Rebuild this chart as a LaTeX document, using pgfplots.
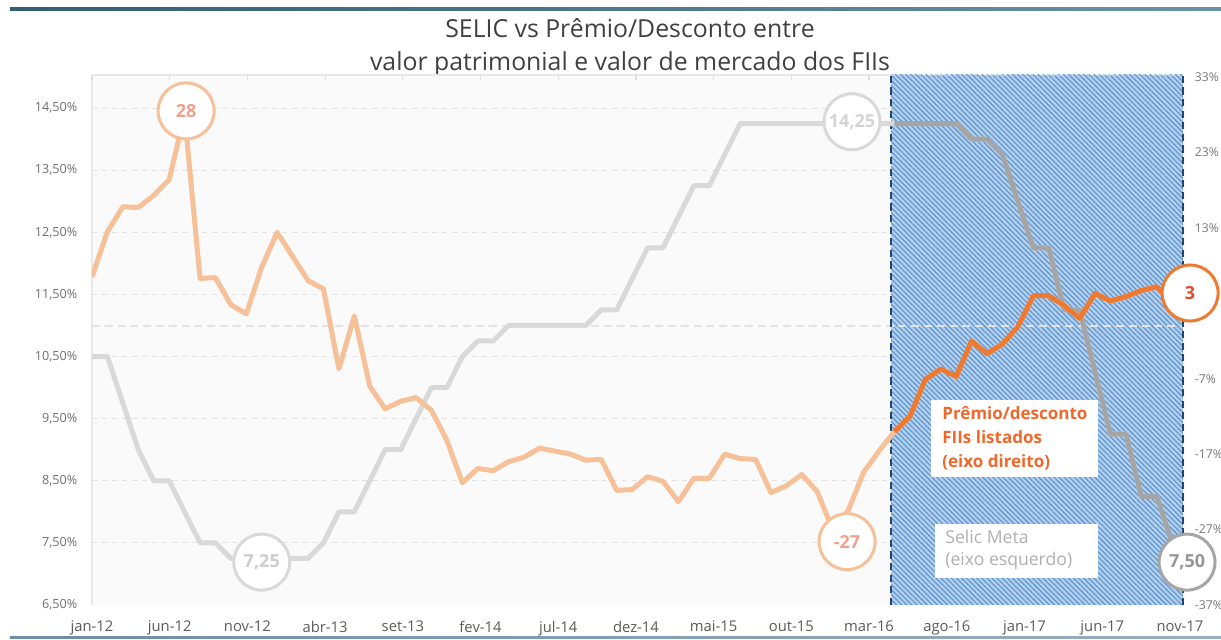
\documentclass[border=0pt]{standalone}
\usepackage{fontspec}
\setmainfont{Open Sans}
\usepackage{pgfplots}
\usepackage{pgfplotstable}
\pgfplotsset{compat=1.18}
\usetikzlibrary{patterns.meta}

\definecolor{fadeor}{RGB}{246,192,152}
\definecolor{satur}{RGB}{238,122,50}
\definecolor{fadegr}{RGB}{217,217,217}
\definecolor{satgr}{RGB}{165,165,165}
\definecolor{navy}{RGB}{35,70,110}
\definecolor{hatchbg}{RGB}{178,208,238}
\definecolor{hatchfg}{RGB}{92,146,204}
\definecolor{ticktxt}{RGB}{110,110,110}
\definecolor{titletxt}{RGB}{64,64,64}
\definecolor{bgl}{RGB}{250,250,250}
\definecolor{gridc}{RGB}{226,226,226}

% i = months since jan-12; selic = left axis (%), premio = right axis (%)
\pgfplotstableread{
i selic premio
0 10.50 6.5
1 10.50 12.5
2 9.75 15.8
3 9.00 15.7
4 8.50 17.3
5 8.50 19.4
6 8.00 28.0
7 7.50 6.3
8 7.50 6.4
9 7.25 2.8
10 7.25 1.6
11 7.25 7.8
12 7.25 12.4
13 7.25 9.2
14 7.25 6.0
15 7.50 4.9
16 8.00 -5.7
17 8.00 1.3
18 8.50 -8.0
19 9.00 -11.0
20 9.00 -10.0
21 9.50 -9.5
22 10.00 -11.2
23 10.00 -15.2
24 10.50 -20.8
25 10.75 -18.9
26 10.75 -19.2
27 11.00 -18.0
28 11.00 -17.4
29 11.00 -16.2
30 11.00 -16.6
31 11.00 -17.0
32 11.00 -17.8
33 11.25 -17.7
34 11.25 -21.8
35 11.75 -21.7
36 12.25 -20.0
37 12.25 -20.6
38 12.75 -23.3
39 13.25 -20.2
40 13.25 -20.2
41 13.75 -17.0
42 14.25 -17.6
43 14.25 -17.7
44 14.25 -22.1
45 14.25 -21.2
46 14.25 -19.7
47 14.25 -22.0
48 14.25 -27.0
49 14.25 -24.5
50 14.25 -19.4
51 14.25 -16.6
52 14.25 -14.0
53 14.25 -12.0
54 14.25 -7.1
55 14.25 -5.7
56 14.25 -6.7
57 14.00 -2.0
58 14.00 -3.7
59 13.75 -2.4
60 13.00 -0.1
61 12.25 4.0
62 12.25 4.0
63 11.25 2.7
64 11.25 1.0
65 10.25 4.3
66 9.25 3.3
67 9.25 3.9
68 8.25 4.7
69 8.25 5.2
70 7.50 3.0
}\data

\pgfplotsset{
  base/.style={
    at={(0,0)}, anchor=south west,
    scale only axis, width=545.5pt, height=264pt,
    xmin=0, xmax=70.7,
    axis line style={draw=none},
    major tick length=0pt,
    ticklabel style={font=\fontsize{6.3pt}{7pt}\selectfont, text=ticktxt},
  },
}

\begin{document}
\begin{tikzpicture}
\useasboundingbox (-46pt,-17.5pt) rectangle (564.5pt,302.5pt);

% frame lines
\shade[left color={rgb,255:red,48;green,95;blue,112}, right color={rgb,255:red,105;green,148;blue,162}]
  (-41pt,297.3pt) rectangle (564.5pt,298.8pt);
\shade[left color={rgb,255:red,110;green,140;blue,165}, right color={rgb,255:red,150;green,175;blue,195}]
  (-41pt,-17pt) rectangle (564.5pt,-16pt);

% title
\node[anchor=base, text=titletxt, font=\fontsize{12.4pt}{14pt}\selectfont] at (269pt,283.5pt) {SELIC vs Prêmio/Desconto entre};
\node[anchor=base, text=titletxt, font=\fontsize{12.4pt}{14pt}\selectfont] at (269pt,267pt) {valor patrimonial e valor de mercado dos FIIs};

% plot background, grid, highlighted period
\fill[bgl] (0,0) rectangle (399.5pt,265pt);
\foreach \k in {1,...,8}
  \draw[gridc, line width=0.5pt, dash pattern=on 2.5pt off 2.5pt] (0,\k*31.06pt) -- (399.5pt,\k*31.06pt);
\draw[gray!18, line width=1pt] (0,0) -- (0,265pt);
\draw[gray!18, line width=1pt] (0,265pt) -- (399.5pt,265pt);
\foreach \k in {0,...,10}
  \draw[gray!25, line width=0.6pt] (\k*38.85pt,265pt) -- (\k*38.85pt,262.5pt);
\fill[hatchbg] (399.5pt,0) rectangle (545.5pt,265pt);
\fill[pattern={Lines[angle=-45,distance=1.8pt,line width=0.55pt]}, pattern color=hatchfg] (399.5pt,0) rectangle (545.5pt,265pt);
\draw[white!55!hatchfg, line width=0.8pt, dotted] (399.5pt,265pt) -- (545.5pt,265pt);
\draw[gray!22, line width=1.3pt, dash pattern=on 4pt off 2.4pt] (0,139.54pt) -- (545.5pt,139.54pt);
\draw[navy, line width=1.4pt, dash pattern=on 3.6pt off 2.2pt] (399.5pt,0) -- (399.5pt,265pt);
\draw[navy, line width=1.4pt, dash pattern=on 3.6pt off 2.2pt] (545.5pt,0) -- (545.5pt,265pt);

% left axis: Selic Meta
\begin{axis}[base,
  ymin=6.5, ymax=15,
  xtick={0,5.036,10.071,15.107,20.143,25.178,30.214,35.25,40.285,45.321,50.357,55.392,60.428,65.464,70.5},
  xticklabels={jan-12,jun-12,nov-12,abr-13,set-13,fev-14,jul-14,dez-14,mai-15,out-15,mar-16,ago-16,jan-17,jun-17,nov-17},
  xticklabel style={font=\fontsize{7.4pt}{8pt}\selectfont, text={rgb,255:red,90;green,90;blue,90}, yshift=-4.5pt},
  ytick={6.5,7.5,8.5,9.5,10.5,11.5,12.5,13.5,14.5},
  yticklabels={{6,50\%},{7,50\%},{8,50\%},{9,50\%},{10,50\%},{11,50\%},{12,50\%},{13,50\%},{14,50\%}},
  yticklabel style={xshift=-3.9pt},
]
\addplot[fadegr, line width=2.5pt, line join=round] table[x=i, y=selic]{\data};
\addplot[satgr, line width=2.5pt, line join=round, restrict x to domain=52:70] table[x=i, y=selic]{\data};
\coordinate (c725) at (axis cs:11.0,7.19);
\coordinate (c1425) at (axis cs:49.25,14.28);
\coordinate (c750) at (axis cs:70.96,7.19);
\end{axis}

% right axis: premium/discount
\begin{axis}[base,
  ymin=-37, ymax=33,
  xtick=\empty,
  yticklabel pos=right,
  ytick={-37,-27,-17,-7,3,13,23,33},
  yticklabels={-37\%,-27\%,-17\%,-7\%,3\%,13\%,23\%,33\%},
  yticklabel style={xshift=2.4pt, font=\fontsize{6.1pt}{7pt}\selectfont, text={rgb,255:red,120;green,120;blue,120}},
]
\addplot[fadeor, line width=2.5pt, line join=round] table[x=i, y=premio]{\data};
\addplot[satur, line width=2.5pt, line join=round, restrict x to domain=52:70] table[x=i, y=premio]{\data};
\coordinate (c28) at (axis cs:6.1,28.5);
\coordinate (cm27) at (axis cs:48.93,-28.6);
\coordinate (c3) at (axis cs:71.16,4.36);
\end{axis}

% legend boxes
\fill[white] (419.5pt,64pt) rectangle (503pt,102.5pt);
\node[anchor=north west, inner sep=0pt, align=left, text=satur!85!red,
  font=\bfseries\fontsize{8.5pt}{12pt}\selectfont] at (425pt,99.5pt)
  {Prêmio/desconto\\FIIs listados\\(eixo direito)};
\fill[white] (421.5pt,13.5pt) rectangle (503pt,40.5pt);
\node[anchor=north west, inner sep=0pt, align=left, text={rgb,255:red,176;green,176;blue,176},
  font=\fontsize{8.8pt}{11pt}\selectfont] at (426.5pt,37.5pt)
  {Selic Meta\\(eixo esquerdo)};

% call-out circles
\tikzset{callout/.style={circle, fill=white, line width=1.5pt, minimum size=28pt, inner sep=0pt,
  font=\bfseries\fontsize{9pt}{9pt}\selectfont}}
\node[callout, draw=fadeor, text={rgb,255:red,240;green,160;blue,140}] at (c28) {28};
\node[callout, draw=fadeor, text={rgb,255:red,240;green,160;blue,140}] at (cm27) {-27};
\node[callout, draw=satur, text={rgb,255:red,232;green,72;blue,40}] at (c3) {3};
\node[callout, draw=fadegr, text={rgb,255:red,205;green,205;blue,205}] at (c725) {7,25};
\node[callout, draw=fadegr, text={rgb,255:red,212;green,212;blue,212}] at (c1425) {14,25};
\node[callout, draw=satgr, text={rgb,255:red,150;green,150;blue,150}] at (c750) {7,50};
\end{tikzpicture}
\end{document}
